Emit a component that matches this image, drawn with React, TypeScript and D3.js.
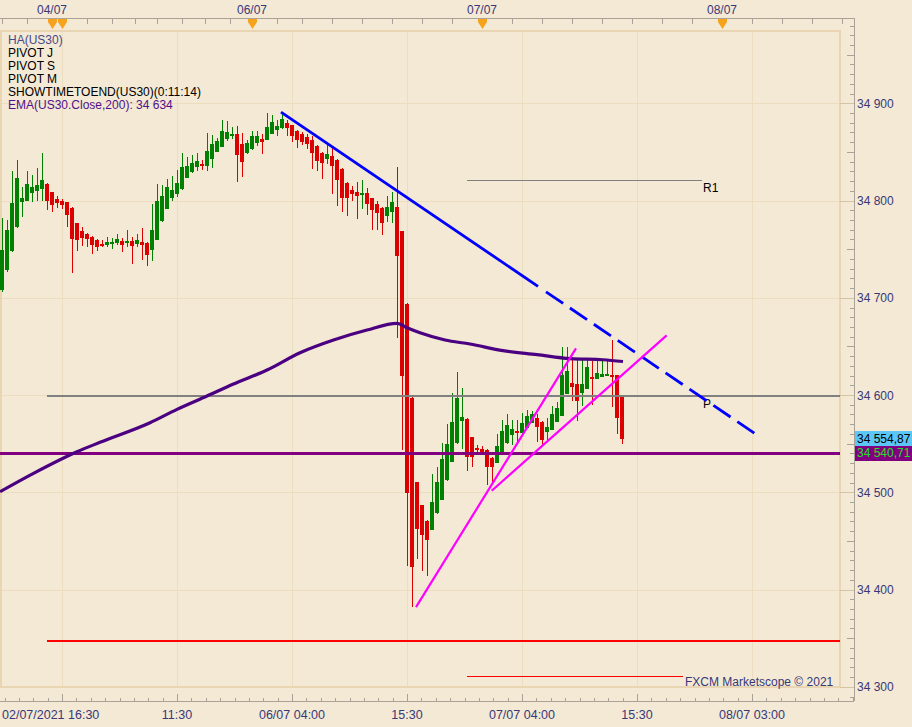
import React from "react";
import * as d3 from "d3";

// ---------- DATA ----------
// Heikin-Ashi candles: [open, high, low, close]
const candles: [number, number, number, number][] = [
  [34708, 34782, 34706, 34749], [34729, 34780, 34727, 34770], [34748, 34830, 34747, 34797],
  [34773, 34842, 34772, 34823], [34798, 34814, 34783, 34803], [34800, 34830, 34800, 34817],
  [34808, 34826, 34798, 34814], [34810, 34833, 34800, 34816], [34812, 34849, 34800, 34821],
  [34817, 34818, 34790, 34800], [34809, 34809, 34788, 34795], [34802, 34805, 34792, 34797],
  [34800, 34802, 34791, 34795], [34798, 34799, 34773, 34785], [34792, 34793, 34725, 34760],
  [34777, 34777, 34748, 34759], [34769, 34773, 34753, 34761], [34766, 34767, 34752, 34760],
  [34763, 34764, 34745, 34754], [34759, 34760, 34748, 34752], [34755, 34759, 34752, 34753],
  [34754, 34763, 34752, 34757], [34755, 34761, 34750, 34757], [34756, 34766, 34754, 34760],
  [34758, 34761, 34747, 34754], [34756, 34770, 34752, 34758], [34758, 34763, 34735, 34753],
  [34755, 34766, 34752, 34759], [34757, 34772, 34739, 34754], [34756, 34757, 34733, 34744],
  [34749, 34796, 34738, 34770], [34759, 34817, 34759, 34800], [34779, 34816, 34778, 34805],
  [34791, 34822, 34791, 34814], [34803, 34825, 34800, 34811], [34807, 34831, 34804, 34818],
  [34812, 34849, 34811, 34835], [34823, 34845, 34823, 34835.5], [34829, 34847, 34828, 34839],
  [34834, 34849, 34830, 34841], [34838, 34842, 34831, 34836], [34836, 34869, 34830, 34851],
  [34843, 34867, 34833, 34858], [34850, 34864, 34850, 34861], [34855, 34883, 34855, 34872],
  [34863, 34882, 34861, 34871], [34867, 34876, 34863, 34868], [34868, 34877, 34819, 34847],
  [34858, 34869, 34824, 34840], [34849, 34862, 34848, 34859], [34853, 34872, 34852, 34866],
  [34859, 34872, 34856, 34866], [34863, 34868, 34848, 34860], [34862, 34890, 34862, 34876],
  [34868, 34888, 34868, 34881], [34873, 34883, 34866, 34877], [34875, 34891, 34874, 34884],
  [34880, 34883, 34866, 34875], [34878, 34878, 34860, 34866], [34872, 34873, 34854, 34862],
  [34868, 34871, 34857, 34860], [34865, 34868, 34853, 34858], [34862, 34866, 34832, 34849],
  [34856, 34857, 34830, 34841], [34849, 34850, 34822, 34839], [34843, 34857, 34838, 34848],
  [34846, 34855, 34807, 34836], [34842, 34843, 34794, 34821], [34832, 34833, 34788, 34803],
  [34818, 34819, 34784, 34803], [34811, 34815, 34800, 34807], [34809, 34819, 34781, 34805],
  [34807, 34821, 34791, 34808], [34808, 34813, 34785, 34796], [34803, 34803, 34770, 34790],
  [34796, 34800, 34770, 34787], [34792, 34793, 34765, 34777], [34784, 34805, 34778, 34793],
  [34788, 34809, 34777, 34798], [34793, 34835, 34659, 34743], [34769, 34769, 34543, 34620],
  [34694, 34695, 34424, 34499], [34597, 34598, 34382, 34423], [34511, 34511, 34431, 34462],
  [34487, 34487, 34419, 34456], [34471, 34472, 34414, 34451], [34461, 34519, 34461, 34490],
  [34479, 34526, 34478, 34511], [34492, 34551, 34492, 34534], [34513, 34570, 34512, 34550],
  [34531, 34602, 34531, 34572], [34551, 34624, 34550, 34597], [34573, 34607, 34545, 34577],
  [34575, 34576, 34522, 34536], [34557, 34557, 34526, 34536], [34546, 34549, 34538, 34543],
  [34545, 34548, 34538, 34541], [34544, 34545, 34507, 34526], [34535, 34536, 34508, 34526],
  [34530, 34560, 34530, 34548], [34539, 34574, 34539, 34563], [34551, 34580, 34550, 34569],
  [34559, 34574, 34549, 34565], [34563, 34574, 34551, 34561], [34561, 34582, 34560, 34571],
  [34566, 34585, 34566, 34578], [34571, 34584, 34571, 34580], [34576, 34580, 34552, 34567],
  [34572, 34573, 34548, 34554], [34562, 34576, 34554, 34567], [34564, 34589, 34564, 34581],
  [34572, 34593, 34572, 34587], [34578, 34649, 34578, 34621], [34601, 34649, 34601, 34625],
  [34612, 34639, 34594, 34608], [34611, 34636, 34573, 34594], [34602, 34636, 34589, 34611],
  [34606, 34636, 34606, 34629], [34619, 34635, 34590, 34616], [34617, 34636, 34616, 34623],
  [34619, 34635, 34619, 34622], [34620, 34636, 34620, 34622], [34621, 34657, 34588, 34620],
  [34621, 34621, 34560, 34576], [34598, 34598, 34550, 34554.87],
];

// EMA(200) read at candle positions
const emaAt = [-0.4, 6.3, 15, 19.6, 29.6, 35, 41, 46.3, 53, 59.6, 66.3, 73, 79, 81, 83.6, 88.6, 93.6, 100.2, 107, 113.6, 120.2, 124.2];
const emaVal = [34500.6, 34519.5, 34541.7, 34551.4, 34571.5, 34585.3, 34599, 34611.3, 34625.7, 34643.5, 34656.6, 34666.9, 34673.8, 34669.2, 34664.1, 34656.6, 34652.5, 34645.6, 34641.5, 34637.4, 34636.3, 34634.5];

// pivot levels
const pivotName = ["P", "S1", "R1", "P", "S1"];
const pivotValue = [34599, 34347.4, 34821.1, 34599, 34311.1];
const pivotFrom = [9, 9, 93, 93, 93];
const pivotTo = [167.6, 167.6, 140, 167.6, 136.2];
const pivotShowLabel = [false, false, true, true, false];

const levelValue = 34540.71; // purple horizontal line

// trend lines [index, price]
const blueFrom: [number, number] = [55.8, 34891];
const blueTo: [number, number] = [150.46, 34560.9];
const blueSolidUntil = 107.2;
const blueDashFrom = 108.8;
const pinkFrom: [number, number][] = [[82.8, 34382], [97.94, 34501.6]];
const pinkTo: [number, number][] = [[114.8, 34648], [132.94, 34661.4]];

// axes
const priceMajor = [34300, 34400, 34500, 34600, 34700, 34800, 34900];
const bottomTickAt = [12, 35, 58, 81, 104, 127, 150];
const bottomLabels = ["02/07/2021 16:30", "11:30", "06/07 04:00", "15:30", "07/07 04:00", "15:30", "08/07 03:00"];
const topLabelAt = [10, 50, 96, 144];
const topLabels = ["04/07", "06/07", "07/07", "08/07"];
const topMarkerAt = [10, 12, 50, 96, 144];
const topTickAt = [0, 5, 17, 22, 26.5, 31, 36, 40.5, 45.5, 55, 60, 66, 72, 78, 84, 90, 102, 108, 114, 120, 126, 132, 138, 150, 156, 162, 168];

const legendLines = ["HA(US30)", "PIVOT J", "PIVOT S", "PIVOT M", "SHOWTIMETOEND(US30)(0:11:14)", "EMA(US30.Close,200): 34 634"];
const legendColors = ["#48488a", "#000", "#000", "#000", "#000", "#50108a"];

// ---------- CHART ----------
const W = 912, H = 727;
const PANEL = { left: 0, top: 31, right: 840, bottom: 687 };
const AXIS_X = 854, AXIS_TOP = 18, AXIS_BOTTOM = 701;
const FONT = "'Liberation Sans', Arial, sans-serif";
const TXT = "#383878";
const BG = "#f3e9d5";
const GRID = "#ecdcc0";

const loc = d3.formatLocale({ decimal: ",", thousands: " ", grouping: [3], currency: ["", ""] });
const fmt0 = loc.format(",.0f");
const fmt2 = loc.format(",.2f");

export default function App() {
  const x = d3.scaleLinear().domain([0, 124]).range([2, 622]);
  const y = d3.scaleLinear().domain([34300, 34900]).range([686.8, 103.3]);
  const ry = (v: number) => Math.round(y(v));

  const emaLine = d3.line<number>().x((_, i) => x(emaAt[i])).y((d) => y(d)).curve(d3.curveMonotoneX)(emaVal) || "";

  const lerp = (a: [number, number], b: [number, number], t: number): [number, number] => [
    a[0] + (b[0] - a[0]) * t,
    a[1] + (b[1] - a[1]) * t,
  ];
  const tAt = (idx: number) => (idx - blueFrom[0]) / (blueTo[0] - blueFrom[0]);
  const bSolidEnd = lerp(blueFrom, blueTo, tAt(blueSolidUntil));
  const bDashStart = lerp(blueFrom, blueTo, tAt(blueDashFrom));

  const priceTicks = d3.range(34290, 34990, 10);
  const bottomMinor = d3.range(-4, 56).map((k) => 12 + k * 2.875).filter((i) => x(i) >= 0 && x(i) <= AXIS_X);

  const last = candles[candles.length - 1][3];

  return (
    <>
      <style>{`body{margin:0;}`}</style>
      <svg width={W} height={H} style={{ display: "block", background: BG }} fontFamily={FONT}>
        <rect x={0} y={0} width={W} height={H} fill={BG} />
        {/* grid */}
        <g shapeRendering="crispEdges">
          {bottomTickAt.map((t) => (
            <line key={"vg" + t} x1={x(t) + 0.5} x2={x(t) + 0.5} y1={PANEL.top} y2={PANEL.bottom} stroke={GRID} strokeWidth={1} />
          ))}
          {priceMajor.map((p) => (
            <line key={"hg" + p} x1={PANEL.left} x2={PANEL.right} y1={ry(p) + 0.5} y2={ry(p) + 0.5} stroke={GRID} strokeWidth={1} />
          ))}
          <rect x={PANEL.left + 1} y={PANEL.top} width={PANEL.right - PANEL.left - 1} height={PANEL.bottom - PANEL.top}
            fill="none" stroke="#e9d5b1" strokeWidth={2} />
        </g>

        {/* candles */}
        <g shapeRendering="crispEdges">
          {candles.map((c, i) => {
            const [o, h, l, cl] = c;
            const up = cl >= o;
            const col = up ? "#008000" : "#dd0000";
            const top = ry(Math.max(o, cl));
            const bot = ry(Math.min(o, cl));
            const cx = x(i);
            return (
              <g key={"c" + i}>
                <rect x={cx} y={ry(h)} width={1} height={Math.max(1, ry(l) - ry(h))} fill={col} />
                <rect x={cx - 2} y={top} width={4} height={Math.max(2, bot - top)} fill={col} />
              </g>
            );
          })}
        </g>

        {/* pivots */}
        <g shapeRendering="crispEdges">
          {pivotValue.map((v, k) => {
            const isS = pivotName[k] === "S1";
            const isP = pivotName[k] === "P";
            const col = isS ? "#ff0000" : "#808080";
            const sw = isP ? 2 : isS && k === 1 ? 2 : 1;
            const yy = ry(v) + (sw === 1 ? 0.5 : 0);
            return (
              <line key={"pv" + k} x1={x(pivotFrom[k])} x2={x(pivotTo[k])} y1={yy} y2={yy} stroke={col} strokeWidth={sw} />
            );
          })}
          {/* purple level */}
          <line x1={PANEL.left} x2={PANEL.right} y1={ry(levelValue) + 0.5} y2={ry(levelValue) + 0.5} stroke="#800080" strokeWidth={3} />
        </g>
        {pivotValue.map((v, k) =>
          pivotShowLabel[k] ? (
            <text key={"pl" + k} x={x(140) + 1} y={y(v) + 12} fontSize={12} fill="#000">{pivotName[k]}</text>
          ) : null
        )}

        {/* EMA */}
        <path d={emaLine} fill="none" stroke="#4b0082" strokeWidth={3.2} />

        {/* blue trend line */}
        <line x1={x(blueFrom[0])} y1={y(blueFrom[1])} x2={x(bSolidEnd[0])} y2={y(bSolidEnd[1])} stroke="#0000ff" strokeWidth={2.8} />
        <line x1={x(bDashStart[0])} y1={y(bDashStart[1])} x2={x(blueTo[0])} y2={y(blueTo[1])} stroke="#0000ff" strokeWidth={2.8}
          strokeDasharray="20.7 8.2" />

        {/* pink trend lines */}
        {pinkFrom.map((a, k) => (
          <line key={"pk" + k} x1={x(a[0])} y1={y(a[1])} x2={x(pinkTo[k][0])} y2={y(pinkTo[k][1])} stroke="#ff00ff" strokeWidth={2.2} />
        ))}

        {/* legend */}
        {legendLines.map((s, k) => (
          <text key={"lg" + k} x={8} y={44 + k * 12.9} fontSize={12} fill={legendColors[k]}>{s}</text>
        ))}

        <text x={685} y={686} fontSize={12} fill={TXT}>FXCM Marketscope © 2021</text>

        {/* top axis */}
        <g shapeRendering="crispEdges">
          <line x1={0} x2={AXIS_X} y1={AXIS_TOP + 0.5} y2={AXIS_TOP + 0.5} stroke="#a8a298" strokeWidth={1} />
          {topTickAt.map((t) => (
            <line key={"tt" + t} x1={x(t) + 0.5} x2={x(t) + 0.5} y1={AXIS_TOP} y2={AXIS_TOP + 6} stroke="#a8a298" strokeWidth={1} />
          ))}
        </g>
        {topMarkerAt.map((t) => {
          const cx = x(t) + 0.5;
          return (
            <polygon key={"tm" + t} points={`${cx - 4.5},${AXIS_TOP + 1} ${cx + 4.5},${AXIS_TOP + 1} ${cx + 4.5},${AXIS_TOP + 4} ${cx},${AXIS_TOP + 11} ${cx - 4.5},${AXIS_TOP + 4}`}
              fill="#f7a21c" />
          );
        })}
        {topLabels.map((s, k) => (
          <text key={"tl" + k} x={x(topLabelAt[k])} y={13.5} fontSize={12} fill={TXT} textAnchor="middle">{s}</text>
        ))}

        {/* right axis */}
        <g shapeRendering="crispEdges">
          <line x1={AXIS_X + 0.5} x2={AXIS_X + 0.5} y1={AXIS_TOP} y2={AXIS_BOTTOM} stroke="#a8a298" strokeWidth={1} />
          {priceTicks.map((p) => {
            const major = p % 100 === 0;
            const mid = p % 50 === 0;
            const len = major ? 14 : mid ? 7 : 4;
            return (
              <line key={"pt" + p} x1={AXIS_X - len} x2={AXIS_X} y1={ry(p) + 0.5} y2={ry(p) + 0.5} stroke={major ? "#d3c4a6" : "#a8a298"} strokeWidth={1} />
            );
          })}
        </g>
        {priceMajor.map((p) => (
          <text key={"py" + p} x={857} y={y(p) + 4.5} fontSize={12} fill={TXT}>{fmt0(p)}</text>
        ))}
        {/* price tags */}
        <rect x={855} y={ry(last) - 8} width={57} height={15} fill="#5cc6f6" shapeRendering="crispEdges" />
        <text x={857} y={y(last) + 4} fontSize={12} fill="#000">{fmt2(last)}</text>
        <rect x={855} y={ry(levelValue) - 7} width={57} height={15} fill="#800080" shapeRendering="crispEdges" />
        <text x={857} y={y(levelValue) + 4.7} fontSize={12} fill="#22e022">{fmt2(levelValue)}</text>

        {/* bottom axis */}
        <g shapeRendering="crispEdges">
          <line x1={0} x2={AXIS_X} y1={AXIS_BOTTOM + 0.5} y2={AXIS_BOTTOM + 0.5} stroke="#a8a298" strokeWidth={1} />
          {bottomMinor.map((t, k) => (
            <line key={"bm" + k} x1={x(t) + 0.5} x2={x(t) + 0.5} y1={AXIS_BOTTOM - 3} y2={AXIS_BOTTOM} stroke="#a8a298" strokeWidth={1} />
          ))}
          {bottomTickAt.map((t) => (
            <line key={"bt" + t} x1={x(t) + 0.5} x2={x(t) + 0.5} y1={AXIS_BOTTOM - 7} y2={AXIS_BOTTOM} stroke="#a8a298" strokeWidth={1} />
          ))}
        </g>
        {bottomLabels.map((s, k) => (
          <text key={"bl" + k} x={k === 0 ? 2 : x(bottomTickAt[k])} y={719} fontSize={12.5} fill={TXT}
            textAnchor={k === 0 ? "start" : "middle"}>{s}</text>
        ))}
      </svg>
    </>
  );
}
